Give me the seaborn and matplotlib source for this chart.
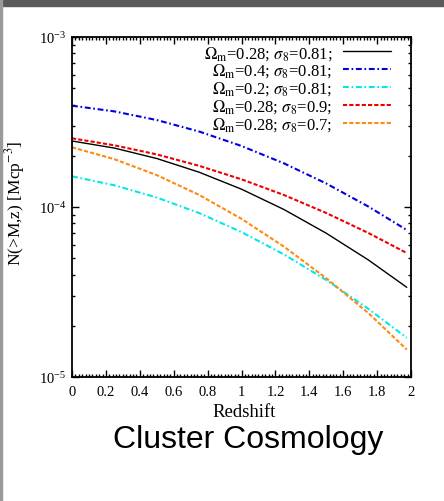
import numpy as np
import matplotlib
matplotlib.use("Agg")
import matplotlib.pyplot as plt
import matplotlib.ticker as mticker
from matplotlib.patches import Rectangle
import seaborn as sns
import pandas as pd

# redshift samples
redshift = [0.0, 0.25, 0.5, 0.75, 1.0, 1.25, 1.5, 1.75, 1.975]

# N(>M,z) for each cosmology
n_028_081 = [2.445e-4, 2.221e-4, 1.929e-4, 1.602e-4, 1.273e-4, 9.67e-5, 7.01e-5, 4.87e-5, 3.37e-5]
n_040_081 = [3.944e-4, 3.651e-4, 3.248e-4, 2.780e-4, 2.285e-4, 1.807e-4, 1.375e-4, 1.004e-4, 7.32e-5]
n_020_081 = [1.515e-4, 1.342e-4, 1.137e-4, 9.21e-5, 7.12e-5, 5.26e-5, 3.72e-5, 2.51e-5, 1.70e-5]
n_028_090 = [2.536e-4, 2.306e-4, 2.039e-4, 1.747e-4, 1.455e-4, 1.177e-4, 9.22e-5, 7.02e-5, 5.36e-5]
n_028_070 = [2.245e-4, 1.911e-4, 1.540e-4, 1.178e-4, 8.52e-5, 5.85e-5, 3.81e-5, 2.37e-5, 1.45e-5]

labels = [r"$\Omega_{\rm m}$=0.28; $\sigma_8$=0.81;",
          r"$\Omega_{\rm m}$=0.4; $\sigma_8$=0.81;",
          r"$\Omega_{\rm m}$=0.2; $\sigma_8$=0.81;",
          r"$\Omega_{\rm m}$=0.28; $\sigma_8$=0.9;",
          r"$\Omega_{\rm m}$=0.28; $\sigma_8$=0.7;"]
series = [n_028_081, n_040_081, n_020_081, n_028_090, n_028_070]
colors = ["black", "#0000e0", "#00e8e8", "#ee0000", "#ff8a10"]
styles = ["-", (0, (2.8, 1.3, 0.8, 1.3)), (0, (2.8, 1.3, 0.8, 1.3)), (0, (2, 1)), (0, (2, 1))]
widths = [1.0, 1.5, 1.5, 1.5, 1.5]

sns.set_style("ticks")
plt.rcParams["font.family"] = ["Liberation Serif", "DejaVu Serif"]
plt.rcParams["mathtext.fontset"] = "stix"
for key in ["text.color", "axes.labelcolor", "xtick.color", "ytick.color", "axes.edgecolor"]:
    plt.rcParams[key] = "black"

fig = plt.figure(figsize=(4.44, 5.02), dpi=100)
ax = fig.add_axes([0.1622, 0.247, 0.7635, 0.6773])

for vals, lab, c, ls, lw in zip(series, labels, colors, styles, widths):
    df = pd.DataFrame({"z": redshift, "N": vals})
    sns.lineplot(data=df, x="z", y="N", ax=ax, color=c, linestyle=ls,
                 linewidth=lw, label=lab)

ax.set_yscale("log")
ax.set_xlim(0, 2)
ax.set_ylim(1e-5, 1e-3)
ax.xaxis.set_major_locator(mticker.MultipleLocator(0.2))
ax.xaxis.set_minor_locator(mticker.MultipleLocator(0.02))
ax.xaxis.set_major_formatter(mticker.FuncFormatter(lambda v, p: f"{v:g}"))
ax.yaxis.set_minor_formatter(mticker.NullFormatter())
ax.tick_params(which="both", direction="in", top=True, right=True,
               labelsize=10.5, color="black", width=1)
ax.tick_params(which="major", length=5)
ax.tick_params(which="minor", length=2.5)
ax.tick_params(axis="x", pad=6)
ax.tick_params(axis="y", pad=4)
for s in ax.spines.values():
    s.set_color("black")
    s.set_linewidth(1.3)

ax.set_xlabel("Redshift", fontsize=13.5)
ax.set_ylabel(r"N(>M,z) [Mcp$^{-3}$]", fontsize=12.5)
ax.xaxis.set_label_coords(0.509, -0.075)
ax.yaxis.set_label_coords(-0.133, 0.513)

leg = ax.legend(loc="upper right", bbox_to_anchor=(0.941, 0.98), frameon=False,
                markerfirst=False, fontsize=12, handlelength=2.9,
                handletextpad=0.6, labelspacing=0.0, borderpad=0,
                borderaxespad=0)

fig.text(0.5586, 0.1076, "Cluster Cosmology", family="Liberation Sans",
         fontsize=23, ha="center", va="baseline", color="black")

# page border strips of the original screenshot
fig.add_artist(Rectangle((0, 1 - 7 / 502), 1, 7 / 502, transform=fig.transFigure,
                         color="#5a5a5a", zorder=10))
fig.add_artist(Rectangle((0, 0), 2 / 444, 1, transform=fig.transFigure,
                         color="#9a9a9a", zorder=10))

fig.savefig("out.png", dpi=100)
